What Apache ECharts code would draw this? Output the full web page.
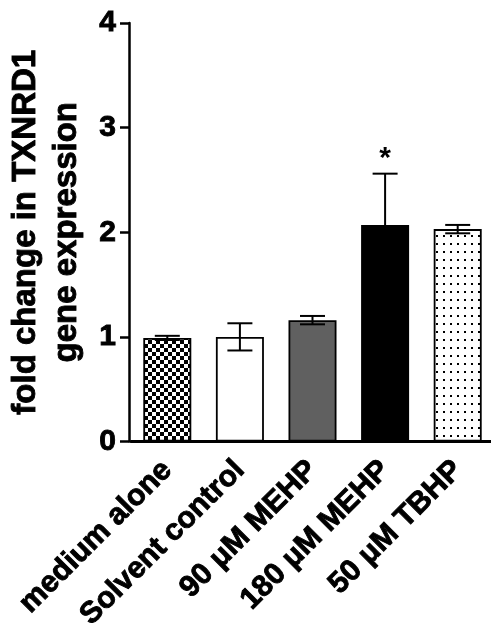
<!DOCTYPE html>
<html>
<head>
<meta charset="utf-8">
<script src="https://cdn.jsdelivr.net/npm/echarts@6/dist/echarts.min.js"></script>
<style>
  html, body { margin: 0; padding: 0; background: #fff; }
  #chart { width: 491px; height: 637px; }
</style>
</head>
<body>
<div id="chart"></div>
<script>
// Treatment groups and measured fold change (mean ± SEM)
const categories = ['medium alone', 'Solvent control', '90 μM MEHP', '180 μM MEHP', '50 μM TBHP'];
const means = [0.99, 1.00, 1.16, 2.07, 2.03];
const sems = [0.02, 0.13, 0.04, 0.49, 0.04];
const marks = ['', '', '', '*', ''];
const yTicks = [0, 1, 2, 3, 4];

const FONT = '"Liberation Sans", Arial, Helvetica, sans-serif';
// thin outline to give the bold text a heavier weight
const HEAVY = { textBorderColor: '#000', textBorderWidth: 0.9 };

// Fill patterns for the bars
function checkerPattern() {
  const c = document.createElement('canvas');
  c.width = 8; c.height = 8;
  const g = c.getContext('2d');
  g.fillStyle = '#fff'; g.fillRect(0, 0, 8, 8);
  g.fillStyle = '#000';
  g.fillRect(0, 0, 4, 4);
  g.fillRect(4, 4, 4, 4);
  return { image: c, repeat: 'repeat' };
}
function dotPattern() {
  const c = document.createElement('canvas');
  c.width = 7; c.height = 8;
  const g = c.getContext('2d');
  g.fillStyle = '#fff'; g.fillRect(0, 0, 7, 8);
  g.fillStyle = '#000';
  g.fillRect(2, 3, 2, 2);
  return { image: c, repeat: 'repeat' };
}
const fills = [checkerPattern(), '#ffffff', '#606060', '#000000', dotPattern()];

const chart = echarts.init(document.getElementById('chart'), null, { renderer: 'canvas' });

const option = {
  animation: false,
  backgroundColor: '#fff',
  grid: { left: 131, top: 23, width: 363, bottom: 195.5, containLabel: false, outerBoundsMode: 'none' },
  xAxis: {
    type: 'category',
    data: categories,
    axisLine: { lineStyle: { color: '#000', width: 3 } },
    axisTick: { show: false },
    axisLabel: Object.assign({
      rotate: 45,
      interval: 0,
      margin: 24,
      color: '#000',
      fontFamily: FONT,
      fontWeight: 'bold',
      fontSize: 30
    }, HEAVY)
  },
  yAxis: {
    type: 'value',
    min: yTicks[0],
    max: yTicks[yTicks.length - 1],
    interval: 1,
    offset: 2,
    name: 'fold change in TXNRD1\ngene expression',
    nameLocation: 'middle',
    nameGap: 42,
    nameTextStyle: Object.assign({
      color: '#000',
      fontFamily: FONT,
      fontWeight: 'bold',
      fontSize: 33,
      lineHeight: 41
    }, HEAVY),
    axisLine: { show: true, lineStyle: { color: '#000', width: 2.5 } },
    axisTick: { show: true, length: 9, lineStyle: { color: '#000', width: 2.5 } },
    splitLine: { show: false },
    axisLabel: Object.assign({
      margin: 13,
      color: '#000',
      fontFamily: FONT,
      fontWeight: 'bold',
      fontSize: 30
    }, HEAVY)
  },
  series: [
    {
      type: 'bar',
      barWidth: 48,
      data: means.map((v, i) => ({
        value: v,
        itemStyle: { color: fills[i], borderColor: '#000', borderWidth: 1.8 }
      })),
      z: 2
    },
    {
      type: 'custom',
      z: 3,
      data: means.map((m, i) => [i, m, sems[i]]),
      renderItem: function (params, api) {
        const i = api.value(0), m = api.value(1), e = api.value(2);
        const top = api.coord([i, m + e]);
        const bot = api.coord([i, m - e]);
        const half = 12.5;
        const style = { stroke: '#000', lineWidth: 2 };
        const children = [
          { type: 'line', shape: { x1: top[0], y1: top[1], x2: bot[0], y2: bot[1] }, style: style },
          { type: 'line', shape: { x1: top[0] - half, y1: top[1], x2: top[0] + half, y2: top[1] }, style: style },
          { type: 'line', shape: { x1: bot[0] - half, y1: bot[1], x2: bot[0] + half, y2: bot[1] }, style: style }
        ];
        const mark = marks[params.dataIndex];
        if (mark) {
          children.push({
            type: 'text',
            style: {
              text: mark,
              x: top[0],
              y: top[1],
              align: 'center',
              verticalAlign: 'bottom',
              fill: '#000',
              font: 'bold 30px ' + FONT
            }
          });
        }
        return { type: 'group', children: children };
      }
    }
  ]
};

chart.setOption(option);
</script>
</body>
</html>
